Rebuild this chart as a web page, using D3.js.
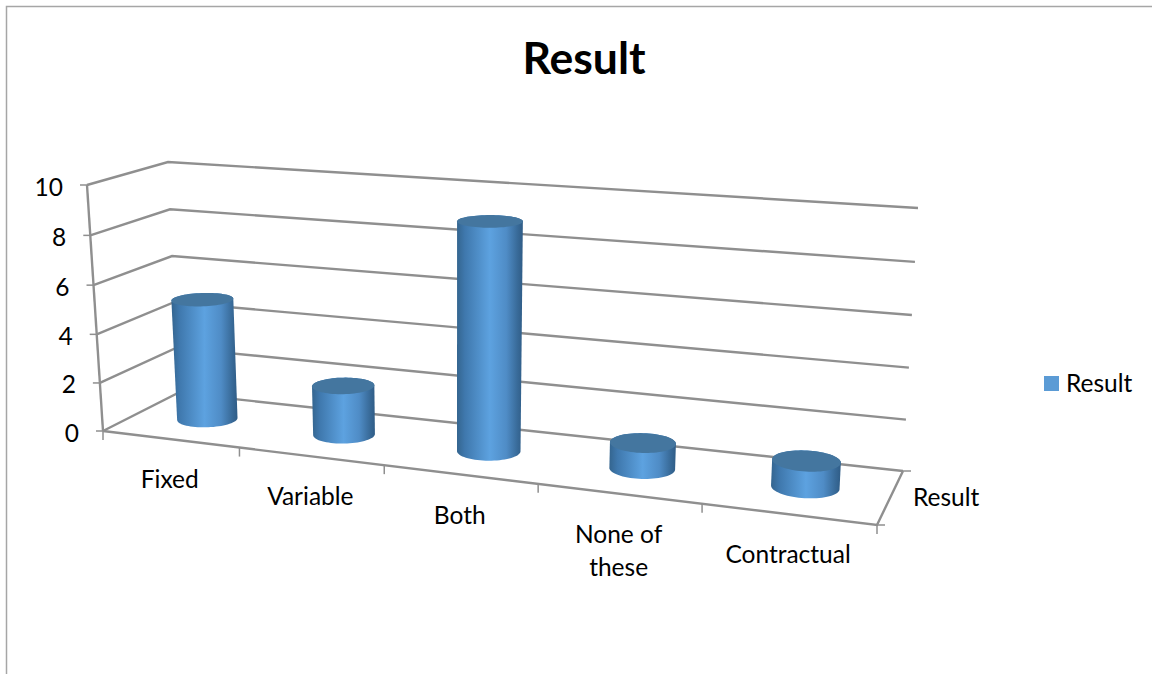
<!DOCTYPE html>
<html>
<head>
<meta charset="utf-8">
<script src="https://cdn.jsdelivr.net/npm/d3@7"></script>
<style>
html,body{margin:0;padding:0;background:#fff;overflow:hidden}
svg{display:block;font-family:Lato,"Open Sans",sans-serif;fill:#000}
</style>
</head>
<body>
<svg id="chart" width="1152" height="674"></svg>
<script>
const seriesName = "Result";
const categories = [["Fixed"], ["Variable"], ["Both"], ["None of", "these"], ["Contractual"]];
const values = [5, 2, 9, 1, 1];
const yTicks = [0, 2, 4, 6, 8, 10];

const svg = d3.select("#chart");
const GRID = "#8f8f8f";

// Floor quad as front-left, front-right, back-right, back-left
const floorQuad = [[103, 431], [877, 525], [903, 471], [178, 393]];
// Full-height offset of the box above each of those floor corners
const riseQuad = [[-16, -246], [15, -282], [15, -263], [-10, -231]];

// Maps the unit square onto a quadrilateral with a projective transform
function squareToQuad(q) {
  const [[x0, y0], [x1, y1], [x2, y2], [x3, y3]] = q;
  const dx1 = x1 - x2, dx2 = x3 - x2, sx = x0 - x1 + x2 - x3;
  const dy1 = y1 - y2, dy2 = y3 - y2, sy = y0 - y1 + y2 - y3;
  const den = dx1 * dy2 - dx2 * dy1;
  const g = (sx * dy2 - dx2 * sy) / den, h = (dx1 * sy - sx * dy1) / den;
  const a = x1 - x0 + g * x1, b = x3 - x0 + h * x3;
  const d = y1 - y0 + g * y1, e = y3 - y0 + h * y3;
  return (u, w) => {
    const k = g * u + h * w + 1;
    return [(a * u + b * w + x0) / k, (d * u + e * w + y0) / k];
  };
}
const floorAt = squareToQuad(floorQuad);

// Rise over a floor point, blended between the four corners
function riseAt(u, w) {
  const [a, b, c, d] = riseQuad;
  return [0, 1].map(k =>
    (1 - w) * ((1 - u) * a[k] + u * b[k]) + w * ((1 - u) * d[k] + u * c[k]));
}

const xScale = d3.scaleLinear().domain([0, categories.length]).range([0, 1]);
const yScale = d3.scaleLinear().domain([0, 10]).range([0, 1]);

// Softens the foreshortening along the category direction
function easeAcross(u) {
  const t = u / (1.17 - 0.17 * u);
  return 1.235 * t / (1 + 0.235 * t);
}
// Slight foreshortening with height
const easeUp = t => t / (1.03 - 0.03 * t);

// Screen position for category offset c, value v and depth w (0 front, 1 back)
function project(c, v, w) {
  const u = easeAcross(xScale(c)), t = easeUp(yScale(v));
  const f = floorAt(u, w), r = riseAt(u, w);
  return [f[0] + r[0] * t, f[1] + r[1] * t];
}

const line = d3.line();
const grid = svg.append("g").attr("fill", "none").attr("stroke", GRID).attr("stroke-width", 2.4);
const n = categories.length;

// Side wall and back wall gridlines
yTicks.forEach(t => {
  grid.append("path").attr("d", line([project(0, t, 0), project(0, t, 1), project(n, t, 1)]));
  const p = project(0, t, 0);
  grid.append("path").attr("stroke-width", 1.5).attr("d", line([[p[0] - 7, p[1]], p]));
});

// Left upright, front edge and right edge of the floor
grid.append("path").attr("d", line([project(0, 10, 0), project(0, 0, 0)]));
grid.append("path").attr("d", line([project(0, 0, 0), project(n, 0, 0), project(n, 0, 1)]));

// Category and depth tick marks
d3.range(n + 1).forEach(i => {
  const p = project(i, 0, 0);
  grid.append("path").attr("stroke-width", 1.5).attr("d", line([p, [p[0], p[1] + 9]]));
});
const fr = project(n, 0, 0), br = project(n, 0, 1);
grid.append("path").attr("stroke-width", 1.5).attr("d", line([fr, [fr[0] + 8, fr[1]]]));
grid.append("path").attr("stroke-width", 1.5).attr("d", line([br, [br[0] + 8, br[1]]]));

// Chart border, open on the right and bottom
svg.append("path").attr("fill", "none").attr("stroke", "#a6a6a6").attr("stroke-width", 1.5)
  .attr("d", line([[6.5, 674], [6.5, 6.5], [1152, 6.5]]));

// Cylinder shading runs dark-light-dark across the width
const defs = svg.append("defs");
const grad = defs.append("linearGradient").attr("id", "cyl").attr("x1", 0).attr("x2", 1).attr("y1", 0).attr("y2", 0);
[[0, "#34658f"], [0.12, "#3f78ad"], [0.5, "#5da2e0"], [0.75, "#4f8cc6"], [0.92, "#386a98"], [1, "#2f5c86"]]
  .forEach(([o, c]) => grad.append("stop").attr("offset", o).attr("stop-color", c));

const RU = 0.2, RW = 0.2;
const angles = d3.range(0, 2 * Math.PI, Math.PI / 36);
const ring = (i, v) => angles.map(a => project(i + 0.5 + RU * Math.cos(a), v, 0.5 + RW * Math.sin(a)));

const bars = svg.append("g");
values.forEach((v, i) => {
  const top = ring(i, v), bottom = ring(i, 0);
  bars.append("path").attr("fill", "url(#cyl)")
    .attr("d", line(d3.polygonHull(top.concat(bottom))) + "Z");
  bars.append("path").attr("fill", "#44769f").attr("d", line(top) + "Z");
});

// Value axis labels
svg.append("g").selectAll("text").data(yTicks).join("text")
  .attr("x", d => project(0, d, 0)[0] - 24)
  .attr("y", d => project(0, d, 0)[1] + 1)
  .attr("text-anchor", "end").attr("dominant-baseline", "central")
  .attr("font-size", 24.5).text(d => d);

// Category labels, centred under each span of the front edge
categories.forEach((lines, i) => {
  const p0 = project(i, 0, 0), p1 = project(i + 1, 0, 0);
  const x = (p0[0] + p1[0]) / 2 - 1.5, y = (p0[1] + p1[1]) / 2 + 39.5;
  lines.forEach((t, k) => svg.append("text")
    .attr("x", x).attr("y", y + k * 33)
    .attr("text-anchor", "middle").attr("dominant-baseline", "central")
    .attr("font-size", 24.5).text(t));
});

// Depth axis label
svg.append("text").attr("x", 913).attr("y", 496).attr("dominant-baseline", "central")
  .attr("font-size", 24.5).text(seriesName);

// Title
svg.append("text").attr("x", 584).attr("y", 56).attr("text-anchor", "middle")
  .attr("dominant-baseline", "central").attr("font-size", 44.5).attr("font-weight", 700).text(seriesName);

// Legend
svg.append("rect").attr("x", 1044).attr("y", 376).attr("width", 15).attr("height", 15).attr("fill", "#5b9bd5");
svg.append("text").attr("x", 1066).attr("y", 382.5).attr("dominant-baseline", "central")
  .attr("font-size", 24.5).text(seriesName);
</script>
</body>
</html>
